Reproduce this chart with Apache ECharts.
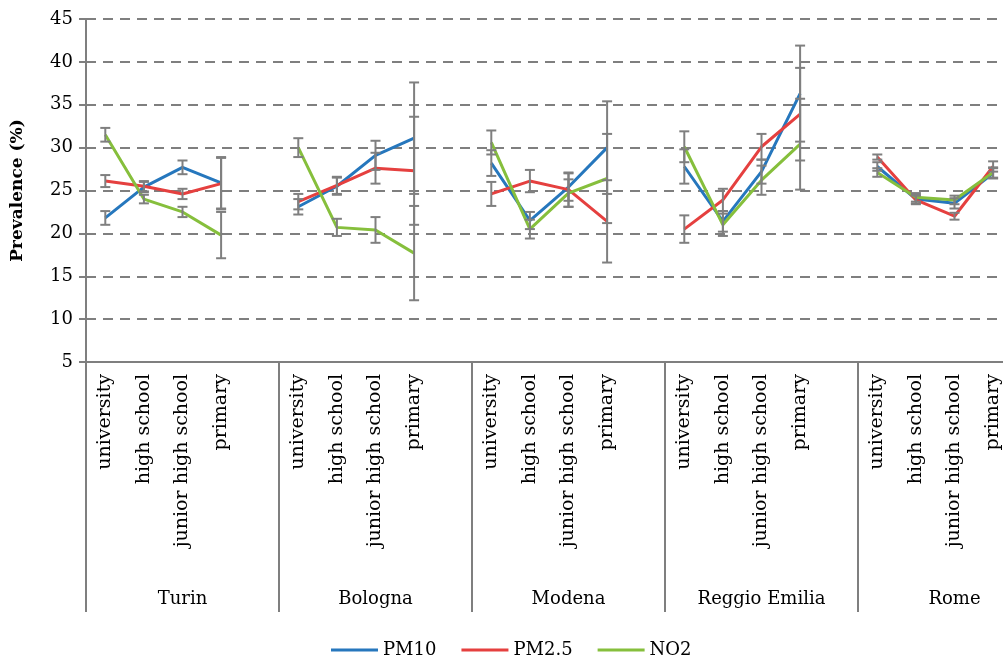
<!DOCTYPE html>
<html>
<head>
<meta charset="UTF-8">
<title>Prevalence by city</title>
<script src="https://cdn.jsdelivr.net/npm/echarts@6/dist/echarts.min.js"></script>
<style>
  *{margin:0;padding:0;}
  body{background:#fff;}
  #main{width:1003px;height:662px;}
</style>
</head>
<body>
<div id="main"></div>
<script>
// data
var cities = ['Turin', 'Bologna', 'Modena', 'Reggio Emilia', 'Rome'];
var levels = ['university', 'high school', 'junior high school', 'primary'];
var yTicks = [5, 10, 15, 20, 25, 30, 35, 40, 45];

var pm10 = [[21.8, 25.4, 27.7, 25.9], [23.1, 25.5, 29.1, 31.1], [28.2, 21.5, 25.4, 30.0], [27.8, 21.4, 27.2, 36.3], [27.8, 24.0, 23.5, 27.0]];
var pm10Err = [[0.8, 0.6, 0.8, 3.0], [0.9, 1.0, 1.7, 6.5], [1.5, 1.0, 1.6, 5.4], [2.0, 1.2, 1.4, 5.6], [0.5, 0.5, 0.6, 0.6]];
var pm25 = [[26.1, 25.5, 24.6, 25.8], [23.7, 25.6, 27.6, 27.3], [24.6, 26.1, 25.1, 21.4], [20.5, 23.9, 30.1, 33.9], [28.9, 23.9, 22.0, 27.8]];
var pm25Err = [[0.7, 0.6, 0.6, 3.0], [0.9, 1.0, 1.8, 6.3], [1.4, 1.3, 2.0, 4.8], [1.6, 1.3, 1.5, 5.4], [0.3, 0.5, 0.4, 0.6]];
var no2 = [[31.5, 24.0, 22.5, 19.8], [30.0, 20.7, 20.4, 17.7], [30.6, 20.5, 24.7, 26.4], [30.1, 21.0, 26.2, 30.4], [27.1, 24.2, 23.9, 27.1]];
var no2Err = [[0.8, 0.5, 0.6, 2.7], [1.1, 1.0, 1.5, 5.5], [1.4, 1.1, 1.6, 5.2], [1.8, 1.3, 1.7, 5.3], [0.5, 0.5, 0.5, 0.6]];

var FONT = 'DejaVu Serif';
var GREY = '#7f7f7f';

// every city gets 4 levels plus an empty slot, so the lines break between cities
var cats = [];
cities.forEach(function () {
  levels.forEach(function (l) { cats.push(l); });
  cats.push('');
});

function flat(arr) {
  var out = [];
  arr.forEach(function (row) {
    row.forEach(function (v) { out.push(v); });
    out.push(null);
  });
  return out;
}
function bars(vals, errs) {
  var out = [];
  vals.forEach(function (row, c) {
    row.forEach(function (v, i) {
      out.push([c * 5 + i, v - errs[c][i], v + errs[c][i]]);
    });
  });
  return out;
}

function errSeries(vals, errs) {
  return {
    type: 'custom',
    xAxisIndex: 0,
    z: 5,
    silent: true,
    data: bars(vals, errs),
    renderItem: function (params, api) {
      var lo = api.coord([api.value(0), api.value(1)]);
      var hi = api.coord([api.value(0), api.value(2)]);
      var w = 5;
      var st = {stroke: GREY, lineWidth: 2};
      return {
        type: 'group',
        children: [
          {type: 'line', shape: {x1: lo[0], y1: lo[1], x2: hi[0], y2: hi[1]}, style: st},
          {type: 'line', shape: {x1: lo[0] - w, y1: lo[1], x2: lo[0] + w, y2: lo[1]}, style: st},
          {type: 'line', shape: {x1: hi[0] - w, y1: hi[1], x2: hi[0] + w, y2: hi[1]}, style: st}
        ]
      };
    }
  };
}

function lineSeries(name, color, vals) {
  return {
    name: name,
    type: 'line',
    xAxisIndex: 0,
    symbol: 'none',
    connectNulls: false,
    z: 3,
    lineStyle: {color: color, width: 3},
    itemStyle: {color: color},
    data: flat(vals)
  };
}

var myChart = echarts.init(document.getElementById('main'));

var option = {
  animation: false,
  textStyle: {fontFamily: FONT, color: '#000'},
  // plot runs past the right edge, like the cropped original
  grid: {left: 86, width: 965, top: 19, height: 343, outerBoundsMode: 'none', containLabel: false},
  legend: {
    data: ['PM10', 'PM2.5', 'NO2'],
    left: 326,
    top: 636,
    icon: 'rect',
    itemWidth: 47,
    itemHeight: 3,
    itemGap: 25,
    textStyle: {fontFamily: FONT, fontSize: 18, color: '#000'}
  },
  xAxis: [
    {
      type: 'category',
      data: cats,
      boundaryGap: true,
      axisLine: {lineStyle: {color: GREY, width: 2}},
      axisTick: {show: false},
      axisLabel: {interval: 0, rotate: 90, margin: 12, fontFamily: FONT, fontSize: 19, color: '#000'},
      splitLine: {show: false}
    },
    {
      type: 'category',
      data: cities,
      position: 'bottom',
      boundaryGap: true,
      axisLine: {show: false},
      axisTick: {show: true, length: 250, lineStyle: {color: GREY, width: 2}},
      axisLabel: {interval: 0, margin: 228, fontFamily: FONT, fontSize: 18, color: '#000'},
      splitLine: {show: false}
    }
  ],
  yAxis: {
    type: 'value',
    min: yTicks[0],
    max: yTicks[yTicks.length - 1],
    interval: 5,
    name: 'Prevalence (%)',
    nameLocation: 'middle',
    nameGap: 60,
    nameTextStyle: {fontFamily: FONT, fontSize: 17, fontWeight: 'bold', color: '#000'},
    axisLine: {show: true, lineStyle: {color: GREY, width: 2}},
    axisTick: {show: true, length: 7, lineStyle: {color: GREY, width: 2}},
    axisLabel: {margin: 13, fontFamily: FONT, fontSize: 18, color: '#000'},
    splitLine: {lineStyle: {color: GREY, width: 2, type: [10, 7]}}
  },
  series: [
    lineSeries('PM10', '#2677bd', pm10),
    lineSeries('PM2.5', '#e5403f', pm25),
    lineSeries('NO2', '#86bf3c', no2),
    errSeries(pm10, pm10Err),
    errSeries(pm25, pm25Err),
    errSeries(no2, no2Err)
  ]
};

myChart.setOption(option);
</script>
</body>
</html>
